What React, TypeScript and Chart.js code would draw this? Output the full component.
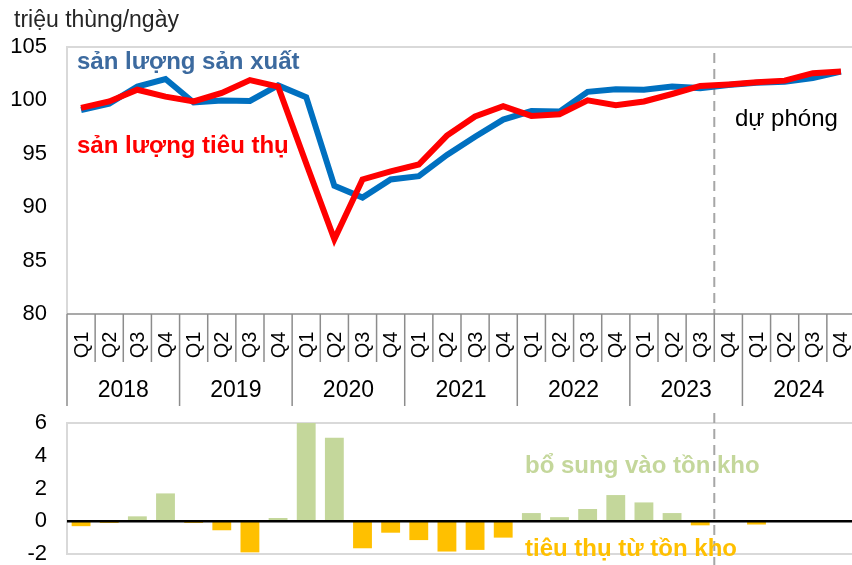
import React, { useEffect, useRef } from "react";
import { Chart, registerables } from "chart.js";

Chart.register(...registerables);

// ---- data ----
const quarters = ["Q1", "Q2", "Q3", "Q4"];
const years = ["2018", "2019", "2020", "2021", "2022", "2023", "2024"];
const categories = years.flatMap((y) => quarters.map((q) => `${q} ${y}`));

const production = [
  99.1, 99.7, 101.3, 102.0, 99.8, 100.0, 99.95, 101.4, 100.3, 92.0, 90.9, 92.6,
  92.9, 94.9, 96.6, 98.2, 99.0, 98.95, 100.8, 101.05, 101.0, 101.3, 101.15,
  101.45, 101.65, 101.75, 102.1, 102.7,
];
const consumption = [
  99.3, 99.9, 101.0, 100.35, 99.9, 100.7, 101.9, 101.3, 94.1, 87.0, 92.6, 93.35,
  94.0, 96.7, 98.5, 99.45, 98.55, 98.7, 100.0, 99.55, 99.9, 100.6, 101.35,
  101.5, 101.7, 101.85, 102.55, 102.7,
];
const inventoryChange = [
  -0.3, -0.1, 0.3, 1.7, -0.1, -0.55, -1.9, 0.2, 6.0, 5.1, -1.65, -0.7, -1.15,
  -1.85, -1.75, -1.0, 0.5, 0.25, 0.75, 1.6, 1.15, 0.5, -0.25, 0, -0.2, 0, 0, 0,
];

const topTicks = [80, 85, 90, 95, 100, 105];
const bottomTicks = [-2, 0, 2, 4, 6];
const forecastStartIndex = 23;

const unitLabel = "triệu thùng/ngày";
const productionLabel = "sản lượng sản xuất";
const consumptionLabel = "sản lượng tiêu thụ";
const forecastLabel = "dự phóng";
const buildLabel = "bổ sung vào tồn kho";
const drawLabel = "tiêu thụ từ tồn kho";

// ---- styles ----
const FONT = "'Liberation Sans', Arial, sans-serif";
const BLUE = "#0070C0";
const RED = "#FF0000";
const GREEN = "#C4D79B";
const ORANGE = "#FFC000";
const FRAME = "#D9D9D9";
const AXIS = "#8C8C8C";
const DASH = "#A6A6A6";

const CW = 860;
const TOP_H = 410;
const BOT_TOP = 405;
const BOT_H = 160;

function forecastX(chart: any) {
  const x = chart.scales.x;
  return (
    (x.getPixelForValue(forecastStartIndex - 1) +
      x.getPixelForValue(forecastStartIndex)) /
    2
  );
}

const topDecor = {
  id: "topDecor",
  beforeDatasetsDraw(chart: any) {
    const { ctx, chartArea: a } = chart;
    ctx.save();
    ctx.strokeStyle = FRAME;
    ctx.lineWidth = 2;
    ctx.beginPath();
    ctx.moveTo(a.left, a.bottom);
    ctx.lineTo(a.left, a.top);
    ctx.lineTo(a.right, a.top);
    ctx.lineTo(a.right, a.bottom);
    ctx.stroke();
    const fx = forecastX(chart);
    ctx.strokeStyle = DASH;
    ctx.lineWidth = 2;
    ctx.setLineDash([10, 6]);
    ctx.beginPath();
    ctx.moveTo(fx, a.top + 6);
    ctx.lineTo(fx, a.bottom);
    ctx.stroke();
    ctx.restore();
  },
  afterDraw(chart: any) {
    const { ctx, chartArea: a, scales } = chart;
    const x = scales.x;
    const n = categories.length;
    const step = x.getPixelForValue(1) - x.getPixelForValue(0);
    ctx.save();
    ctx.strokeStyle = AXIS;
    ctx.lineWidth = 1.5;
    ctx.beginPath();
    ctx.moveTo(a.left, a.bottom);
    ctx.lineTo(a.right, a.bottom);
    ctx.stroke();
    for (let i = 0; i <= n; i++) {
      const px = x.getPixelForValue(i) - step / 2;
      const isYear = i % 4 === 0;
      ctx.beginPath();
      ctx.moveTo(px, a.bottom);
      ctx.lineTo(px, isYear ? a.bottom + 92 : a.bottom + 48);
      ctx.stroke();
    }
    ctx.fillStyle = "#000";
    ctx.font = `20px ${FONT}`;
    ctx.textAlign = "center";
    ctx.textBaseline = "middle";
    categories.forEach((c, i) => {
      const px = x.getPixelForValue(i);
      ctx.save();
      ctx.translate(px + 1, a.bottom + 31);
      ctx.rotate(-Math.PI / 2);
      ctx.fillText(quarters[i % 4], 0, 0);
      ctx.restore();
    });
    ctx.font = `23px ${FONT}`;
    years.forEach((y, k) => {
      const px =
        (x.getPixelForValue(k * 4) + x.getPixelForValue(k * 4 + 3)) / 2;
      ctx.fillText(y, px, a.bottom + 77);
    });
    ctx.textAlign = "left";
    ctx.textBaseline = "alphabetic";
    ctx.fillStyle = "#262626";
    ctx.font = `23px ${FONT}`;
    ctx.fillText(unitLabel, 14, 27);
    ctx.font = `bold 24px ${FONT}`;
    ctx.fillStyle = "#3C6A9F";
    ctx.fillText(productionLabel, 77, 69);
    ctx.fillStyle = RED;
    ctx.fillText(consumptionLabel, 77, 153);
    ctx.fillStyle = "#000";
    ctx.font = `24px ${FONT}`;
    ctx.fillText(forecastLabel, 735, 126);
    ctx.restore();
  },
};

const bottomDecor = {
  id: "bottomDecor",
  beforeDatasetsDraw(chart: any) {
    const { ctx, chartArea: a } = chart;
    ctx.save();
    ctx.strokeStyle = FRAME;
    ctx.lineWidth = 2;
    ctx.strokeRect(a.left, a.top, a.right - a.left, a.bottom - a.top);
    const fx = forecastX(chart);
    ctx.strokeStyle = DASH;
    ctx.lineWidth = 2;
    ctx.setLineDash([10, 6]);
    ctx.beginPath();
    ctx.moveTo(fx, 8);
    ctx.lineTo(fx, BOT_H);
    ctx.stroke();
    ctx.restore();
  },
  afterDatasetsDraw(chart: any) {
    const { ctx, chartArea: a, scales } = chart;
    const y0 = scales.y.getPixelForValue(0);
    ctx.save();
    ctx.strokeStyle = "#000";
    ctx.lineWidth = 2.5;
    ctx.beginPath();
    ctx.moveTo(a.left, y0);
    ctx.lineTo(a.right, y0);
    ctx.stroke();
    ctx.font = `bold 24px ${FONT}`;
    ctx.textAlign = "left";
    ctx.textBaseline = "alphabetic";
    ctx.fillStyle = GREEN;
    ctx.fillText(buildLabel, 525, 473 - BOT_TOP);
    ctx.fillStyle = ORANGE;
    ctx.fillText(drawLabel, 525, 556 - BOT_TOP);
    ctx.restore();
  },
};

const fixY = (s: any) => {
  s.width = 67;
  s.paddingTop = 0;
  s.paddingBottom = 0;
};

export default function App() {
  const topRef = useRef<HTMLCanvasElement>(null);
  const botRef = useRef<HTMLCanvasElement>(null);

  useEffect(() => {
    const yTickCommon = {
      color: "#000",
      padding: 20,
      font: { family: FONT, size: 22 },
    };
    const top = new Chart(topRef.current!, {
      type: "line",
      data: {
        labels: categories,
        datasets: [
          {
            label: consumptionLabel,
            data: consumption,
            borderColor: RED,
            backgroundColor: RED,
            borderWidth: 6,
            pointRadius: 0,
            tension: 0,
            order: 0,
          },
          {
            label: productionLabel,
            data: production,
            borderColor: BLUE,
            backgroundColor: BLUE,
            borderWidth: 6,
            pointRadius: 0,
            tension: 0,
            order: 1,
          },
        ],
      },
      options: {
        responsive: false,
        animation: false,
        layout: { padding: { top: 47, right: 5, bottom: TOP_H - 314, left: 0 } },
        plugins: { legend: { display: false }, tooltip: { enabled: false } },
        scales: {
          x: { display: false, offset: true },
          y: {
            min: 80,
            max: 105,
            afterFit: fixY,
            afterBuildTicks: (s: any) => {
              s.ticks = topTicks.map((v) => ({ value: v }));
            },
            grid: { display: false, drawTicks: false },
            border: { display: false },
            ticks: yTickCommon,
          },
        },
      },
      plugins: [topDecor],
    });

    const bottom = new Chart(botRef.current!, {
      type: "bar",
      data: {
        labels: categories,
        datasets: [
          {
            data: inventoryChange,
            backgroundColor: inventoryChange.map((v) => (v >= 0 ? GREEN : ORANGE)),
            borderWidth: 0,
            barPercentage: 0.67,
            categoryPercentage: 1,
          },
        ],
      },
      options: {
        responsive: false,
        animation: false,
        layout: { padding: { top: 18, right: 5, bottom: BOT_H - 149, left: 0 } },
        plugins: { legend: { display: false }, tooltip: { enabled: false } },
        scales: {
          x: { display: false, offset: true },
          y: {
            min: -2,
            max: 6,
            afterFit: fixY,
            afterBuildTicks: (s: any) => {
              s.ticks = bottomTicks.map((v) => ({ value: v }));
            },
            grid: { display: false, drawTicks: false },
            border: { display: false },
            ticks: yTickCommon,
          },
        },
      },
      plugins: [bottomDecor],
    });

    return () => {
      top.destroy();
      bottom.destroy();
    };
  }, []);

  return (
    <div
      style={{
        position: "absolute",
        left: 0,
        top: 0,
        width: 852,
        height: 565,
        overflow: "hidden",
        background: "#fff",
      }}
    >
      <canvas
        ref={topRef}
        width={CW}
        height={TOP_H}
        style={{ position: "absolute", left: 0, top: 0, width: CW, height: TOP_H }}
      />
      <canvas
        ref={botRef}
        width={CW}
        height={BOT_H}
        style={{ position: "absolute", left: 0, top: BOT_TOP, width: CW, height: BOT_H }}
      />
    </div>
  );
}
